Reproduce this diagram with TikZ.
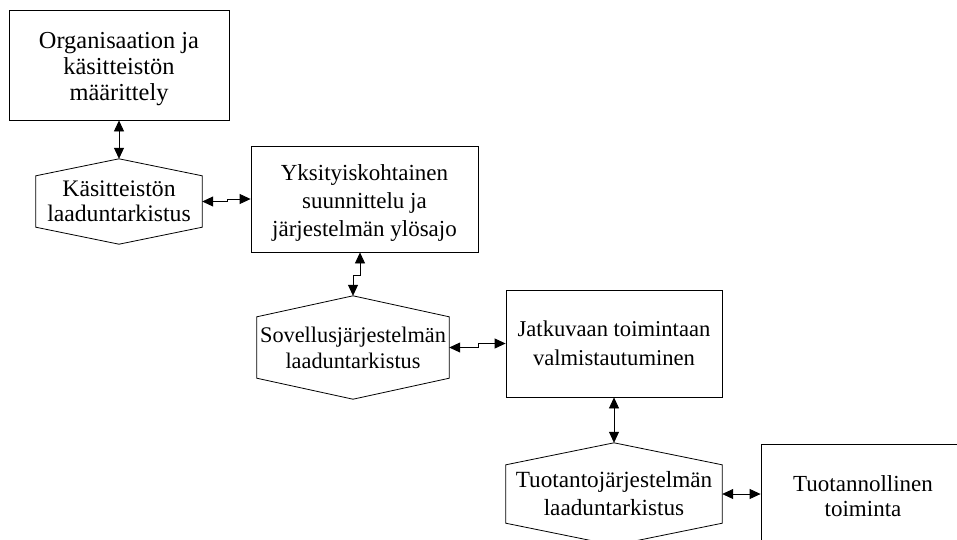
\documentclass[tikz,border=0pt]{standalone}
\usepackage{fontspec}
\setmainfont{Liberation Serif}
\usetikzlibrary{arrows.meta}

% hexagon outline around a text node: pointed top and bottom, vertical sides
\newcommand\hexoutline[2]{%
  \draw[line width=0.8pt] (#1.north) -- ([yshift=-#2]#1.north east) -- ([yshift=#2]#1.south east)
    -- (#1.south) -- ([yshift=#2]#1.south west) -- ([yshift=-#2]#1.north west) -- cycle;}
% font size and line spacing of a label
\newcommand\lblsize[2]{\fontsize{#1}{#2}\selectfont}
% taller first line, which sets the text block a little lower in its box
\newcommand\lowerby[1]{\rule{0pt}{\dimexpr 17pt+#1\relax}}

\begin{document}
\begin{tikzpicture}[x=1pt,y=-1pt,
  lbl/.style={inner sep=0pt, align=center},
  task/.style={lbl, draw, line width=0.8pt, minimum width=#1},
  check/.style={lbl, minimum width=#1},
  link/.style={line width=0.8pt,
    {Triangle[length=11pt,width=10pt]}-{Triangle[length=11pt,width=10pt]}}]
\useasboundingbox (0,0) rectangle (957,539);
\clip (0,0) rectangle (957,539);

% process boxes
\node[task=220, minimum height=110, font=\lblsize{24.4}{26}] (org) at (119,65)
  {\lowerby{7pt}Organisaation ja\\käsitteistön\\määrittely};
\node[task=227, minimum height=106, font=\lblsize{23}{28}] (yks) at (364.5,199)
  {\lowerby{7pt}Yksityiskohtainen\\suunnittelu ja\\järjestelmän ylösajo};
\node[task=216, minimum height=107, font=\lblsize{22.6}{29}] (jat) at (614,343.5)
  {Jatkuvaan toimintaan\\valmistautuminen};
\node[task=204, minimum height=105, font=\lblsize{23}{25}] (tuo) at (863,496.5)
  {Tuotannollinen\\toiminta};

% quality reviews
\node[check=166, minimum height=85, font=\lblsize{23.7}{25.5}] (kqa) at (119,201.5)
  {Käsitteistön\\laaduntarkistus};
\hexoutline{kqa}{17pt}
\node[check=192, minimum height=103, font=\lblsize{22.3}{26}] (sqa) at (353,347.5)
  {Sovellusjärjestelmän\\laaduntarkistus};
\hexoutline{sqa}{21pt}
\node[check=216, minimum height=102, font=\lblsize{23.2}{28}] (tqa) at (614,494)
  {Tuotantojärjestelmän\\laaduntarkistus};
\hexoutline{tqa}{22pt}

% two-way connectors
\draw[link] (org.south) -- (kqa.north);
\draw[link] (kqa.east) -- ([xshift=25pt]kqa.east) |- (yks.west);
\draw[link] ([xshift=-4.5pt]yks.south) -- ([xshift=-4.5pt,yshift=-23pt]yks.south) -| (sqa.north);
\draw[link] (sqa.east) -- ([xshift=29pt]sqa.east) |- (jat.west);
\draw[link] (jat.south) -- (tqa.north);
\draw[link] (tqa.east) -- (tqa.east -| tuo.west);
\end{tikzpicture}
\end{document}
